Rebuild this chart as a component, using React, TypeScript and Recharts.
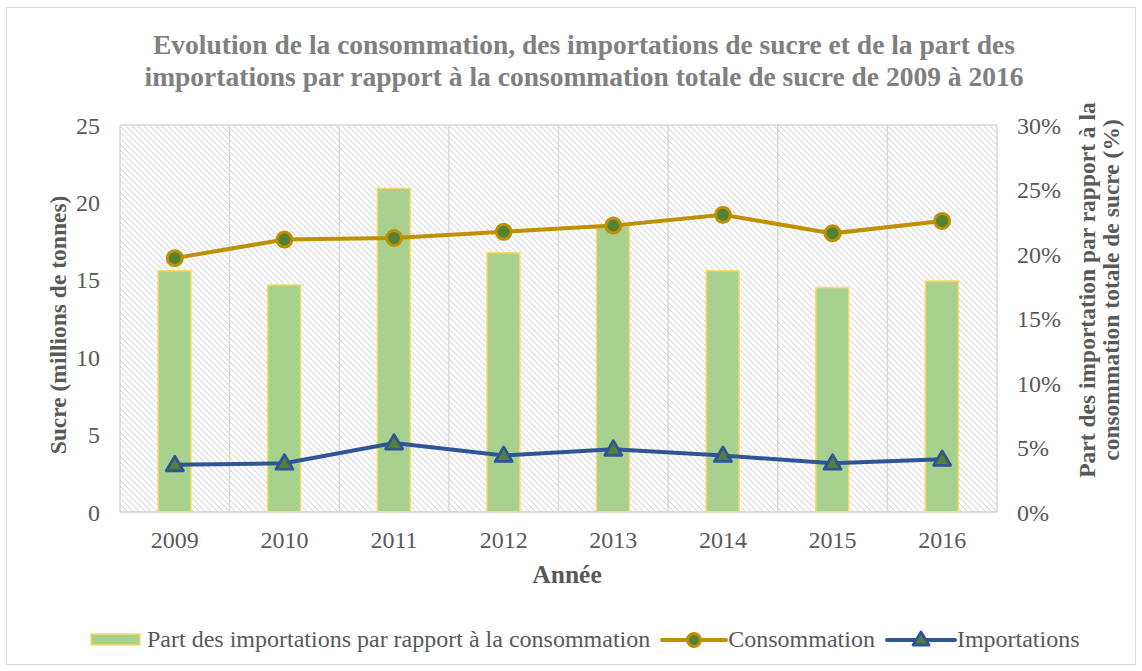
import { ComposedChart, Bar, Line, XAxis, YAxis, CartesianGrid } from 'recharts'

const annees = ['2009', '2010', '2011', '2012', '2013', '2014', '2015', '2016']
const partImportations = [18.7, 17.6, 25.1, 20.1, 22.2, 18.7, 17.4, 17.9]
const consommation = [16.4, 17.6, 17.7, 18.1, 18.5, 19.2, 18.0, 18.8]
const importations = [3.05, 3.15, 4.45, 3.65, 4.05, 3.65, 3.15, 3.4]
const ticksGauche = [0, 5, 10, 15, 20, 25]
const ticksDroite = [0, 5, 10, 15, 20, 25, 30]

const data = annees.map((a, i) => ({
  annee: a,
  part: partImportations[i],
  conso: consommation[i],
  imports: importations[i],
}))

const W = 1142
const H = 671
const FONT = '"Liberation Serif", "Times New Roman", serif'
const GRIS = '#595959'

const OR = '#bf9000'
const BLEU = '#2f5597'
const VERT = '#548235'

function Triangle(props: any) {
  const { cx, cy, index } = props
  if (cx == null || cy == null) return <g key={index} />
  const s = 8.5
  return (
    <polygon
      key={index}
      points={`${cx},${cy - s} ${cx - s},${cy + s * 0.7} ${cx + s},${cy + s * 0.7}`}
      fill={VERT}
      stroke={BLEU}
      strokeWidth={2.8}
      strokeLinejoin="round"
    />
  )
}

export default function App() {
  return (
    <div style={{ position: 'absolute', left: 0, top: 0, width: W, height: H, background: '#fff', fontFamily: FONT }}>
      <div style={{ position: 'absolute', left: 6, top: 7, width: 1128, height: 656, border: '1px solid #d9d9d9' }} />

      {/* titre */}
      <div style={{
        position: 'absolute', left: 0, top: 29, width: 1168, textAlign: 'center',
        fontWeight: 'bold', fontSize: 27.5, lineHeight: '32px', color: '#808080', whiteSpace: 'nowrap',
      }}>
        Evolution de la consommation, des importations de sucre et de la part des<br />
        importations par rapport à la consommation totale de sucre de 2009 à 2016
      </div>

      <ComposedChart
        width={W}
        height={H}
        data={data}
        margin={{ top: 125, right: 0, bottom: 129, left: 0 }}
        style={{ position: 'absolute', left: 0, top: 0 }}
      >
        <defs>
          <pattern id="hachures" patternUnits="userSpaceOnUse" width="6" height="6">
            <rect width="6" height="6" fill="#fff" />
            <path d="M-1,-1 L7,7 M-1,5 L1,7 M5,-1 L7,1" stroke="#dadada" strokeWidth="1.1" />
          </pattern>
        </defs>
        <CartesianGrid
          stroke="#d9d9d9"
          strokeWidth={1.5}
          fill="url(#hachures)"
          fillOpacity={1}
          verticalCoordinatesGenerator={({ offset }: any) =>
            annees.map((_, i) => offset.left + (i * offset.width) / annees.length).concat(offset.left + offset.width)
          }
        />
        <XAxis
          dataKey="annee"
          height={30}
          axisLine={{ stroke: '#d9d9d9', strokeWidth: 1.5 }}
          tickLine={false}
          tickSize={0}
          tickMargin={19}
          tick={{ fontSize: 24, fill: GRIS, fontFamily: FONT }}
        />
        <YAxis
          yAxisId="g"
          width={120}
          domain={[0, 25]}
          ticks={ticksGauche}
          axisLine={false}
          tickLine={false}
          tickSize={0}
          tickMargin={20}
          tick={{ fontSize: 24, fill: GRIS, fontFamily: FONT }}
        />
        <YAxis
          yAxisId="d"
          orientation="right"
          width={145}
          domain={[0, 30]}
          ticks={ticksDroite}
          axisLine={false}
          tickLine={false}
          tickSize={0}
          tickMargin={20}
          tickFormatter={(v) => `${v}%`}
          tick={{ fontSize: 24, fill: GRIS, fontFamily: FONT }}
        />
        <Bar
          yAxisId="d"
          dataKey="part"
          barSize={33}
          fill="#a9d18e"
          stroke="#ffd966"
          strokeWidth={1.5}
          isAnimationActive={false}
        />
        <Line
          yAxisId="g"
          dataKey="conso"
          stroke={OR}
          strokeWidth={4}
          dot={{ r: 7.5, fill: VERT, stroke: OR, strokeWidth: 3 }}
          activeDot={false}
          isAnimationActive={false}
        />
        <Line
          yAxisId="g"
          dataKey="imports"
          stroke={BLEU}
          strokeWidth={4}
          dot={<Triangle />}
          activeDot={false}
          isAnimationActive={false}
        />
      </ComposedChart>

      {/* titres des axes */}
      <div style={{
        position: 'absolute', left: 58, top: 325, transform: 'translate(-50%, -50%) rotate(-90deg)',
        whiteSpace: 'nowrap', fontWeight: 'bold', fontSize: 23.5, color: GRIS,
      }}>
        Sucre (millions de tonnes)
      </div>
      <div style={{
        position: 'absolute', left: 1099, top: 290, transform: 'translate(-50%, -50%) rotate(-90deg)',
        whiteSpace: 'nowrap', fontWeight: 'bold', fontSize: 23.5, lineHeight: '24px', color: GRIS, textAlign: 'center',
      }}>
        Part des importation par rapport à la<br />consommation totale de sucre (%)
      </div>
      <div style={{
        position: 'absolute', left: 507, top: 560, width: 120, textAlign: 'center',
        fontWeight: 'bold', fontSize: 25.5, color: GRIS,
      }}>
        Année
      </div>

      {/* légende */}
      <div style={{
        position: 'absolute', left: 90, top: 626, display: 'flex', alignItems: 'center',
        fontSize: 24, color: GRIS, whiteSpace: 'nowrap',
      }}>
        <svg width={52} height={16} style={{ marginRight: 5 }}>
          <rect x={1} y={2} width={49} height={11} fill="#a9d18e" stroke="#ffd966" strokeWidth={1.5} />
        </svg>
        <span>Part des importations par rapport à la consommation</span>
        <svg width={68} height={22} style={{ marginLeft: 10 }}>
          <line x1={2} y1={11} x2={66} y2={11} stroke={OR} strokeWidth={4} strokeLinecap="round" />
          <circle cx={34} cy={11} r={6.5} fill={VERT} stroke={OR} strokeWidth={3} />
        </svg>
        <span>Consommation</span>
        <svg width={72} height={22} style={{ marginLeft: 10 }}>
          <line x1={2} y1={11} x2={70} y2={11} stroke={BLEU} strokeWidth={4} strokeLinecap="round" />
          <polygon points="36,3 28,16 44,16" fill={VERT} stroke={BLEU} strokeWidth={2.8} strokeLinejoin="round" />
        </svg>
        <span>Importations</span>
      </div>
    </div>
  )
}
